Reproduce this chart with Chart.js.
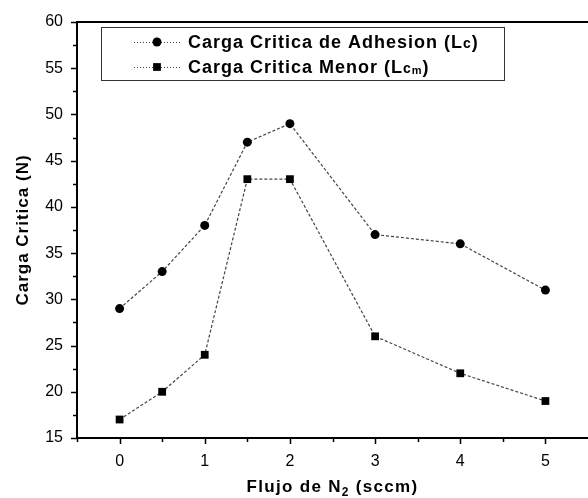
<!DOCTYPE html>
<html>
<head>
<meta charset="utf-8">
<script src="https://cdn.jsdelivr.net/npm/chart.js@4/dist/chart.umd.min.js"></script>
<style>
  html, body { margin: 0; padding: 0; background: #fff; overflow: hidden; }
</style>
</head>
<body>
<canvas id="chart" width="588" height="498"></canvas>
<script>
// N2 flow (sccm) and critical loads (N)
const flujo = [0, 0.5, 1, 1.5, 2, 3, 4, 5]
const lcAdhesion = [29, 33, 38, 47, 49, 37, 36, 31]
const lcMenor = [17, 20, 24, 43, 43, 26, 22, 19]

const xTicks = [0, 1, 2, 3, 4, 5]
const xMinorTicks = [-0.5, 0.5, 1.5, 2.5, 3.5, 4.5]
const yTicks = [15, 20, 25, 30, 35, 40, 45, 50, 55, 60]
const yMinorTicks = [17.5, 22.5, 27.5, 32.5, 37.5, 42.5, 47.5, 52.5, 57.5]

const FONT = '"Liberation Sans", Arial, sans-serif'

const lineStyle = {
  borderColor: '#444',
  borderWidth: 1.2,
  borderDash: [3, 2],
  pointBackgroundColor: '#000',
  pointBorderColor: '#000',
  pointBorderWidth: 0,
  fill: false,
  tension: 0
}

// draws text pieces [text, size, dy] one after the other, returns width
const drawPieces = (ctx, pieces, x, y, spacing, measureOnly) => {
  let px = x
  ctx.letterSpacing = spacing + 'px'
  pieces.forEach(([t, size, dy]) => {
    ctx.font = 'bold ' + size + 'px ' + FONT
    if (!measureOnly) ctx.fillText(t, px, y + dy)
    px += ctx.measureText(t).width
  })
  return px - x
}

// frame top line, outward tick marks, axis titles
const framePlugin = {
  id: 'frame',
  afterDraw(chart) {
    const { ctx, chartArea: a, scales: { x, y } } = chart
    ctx.save()
    ctx.strokeStyle = '#000'
    ctx.lineWidth = 2
    ctx.beginPath()
    ctx.moveTo(a.left - 1, a.top)
    ctx.lineTo(a.right, a.top)
    ctx.stroke()
    ctx.lineWidth = 1.5
    ctx.beginPath()
    const tick = (v, len, horiz) => {
      if (horiz) {
        const px = Math.round(x.getPixelForValue(v)) + 0.5
        ctx.moveTo(px, a.bottom)
        ctx.lineTo(px, a.bottom + len)
      } else {
        const py = Math.round(y.getPixelForValue(v)) + 0.5
        ctx.moveTo(a.left, py)
        ctx.lineTo(a.left - len, py)
      }
    }
    xTicks.forEach(v => tick(v, 6, true))
    xMinorTicks.forEach(v => tick(v, 4, true))
    yTicks.forEach(v => tick(v, 6, false))
    yMinorTicks.forEach(v => tick(v, 4, false))
    ctx.stroke()

    ctx.fillStyle = '#000'
    ctx.textBaseline = 'alphabetic'
    ctx.textAlign = 'left'

    // x axis title with subscript
    const xTitle = [['Flujo de N', 17, 0], ['2', 12, 4], [' (sccm)', 17, 0]]
    const wx = drawPieces(ctx, xTitle, 0, 0, 1.3, true)
    drawPieces(ctx, xTitle, (a.left + a.right) / 2 - wx / 2, 492, 1.3, false)

    // y axis title
    const yTitle = [['Carga Critica (N)', 17, 0]]
    const wy = drawPieces(ctx, yTitle, 0, 0, 1.0, true)
    ctx.translate(28, (a.top + a.bottom) / 2)
    ctx.rotate(-Math.PI / 2)
    drawPieces(ctx, yTitle, -wy / 2, 0, 1.0, false)
    ctx.restore()
  }
}

// legend box inside the plot
const legendPlugin = {
  id: 'boxLegend',
  afterDraw(chart) {
    const { ctx } = chart
    const box = { x: 101, y: 27, w: 403, h: 53 }
    ctx.save()
    ctx.fillStyle = '#fff'
    ctx.fillRect(box.x, box.y, box.w, box.h)
    ctx.strokeStyle = '#333'
    ctx.lineWidth = 1
    ctx.strokeRect(box.x + 0.5, box.y + 0.5, box.w, box.h)
    const rows = [
      [['Carga Critica de Adhesion (L', 18, 0], ['c', 14, 0], [')', 18, 0]],
      [['Carga Critica Menor (L', 18, 0], ['c', 14, 0], ['m', 11, 1], [')', 18, 0]]
    ]
    chart.data.datasets.forEach((ds, i) => {
      const ry = box.y + 15 + i * 25
      ctx.strokeStyle = ds.borderColor
      ctx.lineWidth = 1
      ctx.setLineDash([1, 2])
      ctx.beginPath()
      ctx.moveTo(134, ry + 0.5)
      ctx.lineTo(180, ry + 0.5)
      ctx.stroke()
      ctx.setLineDash([])
      ctx.fillStyle = '#000'
      Chart.helpers.drawPoint(ctx, { pointStyle: ds.pointStyle, radius: ds.pointRadius, rotation: 0, borderWidth: 0 }, 157, ry)
      ctx.textBaseline = 'alphabetic'
      ctx.textAlign = 'left'
      drawPieces(ctx, rows[i], 188, ry + 6, 1.0, false)
    })
    ctx.restore()
  }
}

new Chart(document.getElementById('chart').getContext('2d'), {
  type: 'line',
  data: {
    datasets: [
      {
        label: 'Carga Critica de Adhesion (Lc)',
        data: flujo.map((f, i) => ({ x: f, y: lcAdhesion[i] })),
        pointStyle: 'circle',
        pointRadius: 4.5,
        ...lineStyle
      },
      {
        label: 'Carga Critica Menor (Lcm)',
        data: flujo.map((f, i) => ({ x: f, y: lcMenor[i] })),
        pointStyle: 'rect',
        pointRadius: 5.5,
        ...lineStyle
      }
    ]
  },
  options: {
    responsive: false,
    devicePixelRatio: 1,
    animation: false,
    layout: { autoPadding: false, padding: { top: 22, right: 0, left: 0, bottom: 0 } },
    plugins: {
      legend: { display: false },
      tooltip: { enabled: false }
    },
    scales: {
      x: {
        type: 'linear',
        min: -0.5,
        max: 5.5,
        afterFit: s => { s.height = 60; s.paddingLeft = 0; s.paddingRight = 0 },
        afterBuildTicks: s => { s.ticks = xTicks.map(v => ({ value: v })) },
        grid: { display: false, drawTicks: false },
        border: { display: true, color: '#000', width: 2 },
        ticks: { color: '#000', font: { family: FONT, size: 16 }, padding: 14, maxRotation: 0 }
      },
      y: {
        min: 15,
        max: 60,
        afterFit: s => { s.width = 77; s.paddingTop = 0; s.paddingBottom = 0 },
        afterBuildTicks: s => { s.ticks = yTicks.map(v => ({ value: v })) },
        grid: { display: false, drawTicks: false },
        border: { display: true, color: '#000', width: 2 },
        ticks: { color: '#000', font: { family: FONT, size: 16 }, padding: 14 }
      }
    }
  },
  plugins: [framePlugin, legendPlugin]
})
</script>
</body>
</html>
